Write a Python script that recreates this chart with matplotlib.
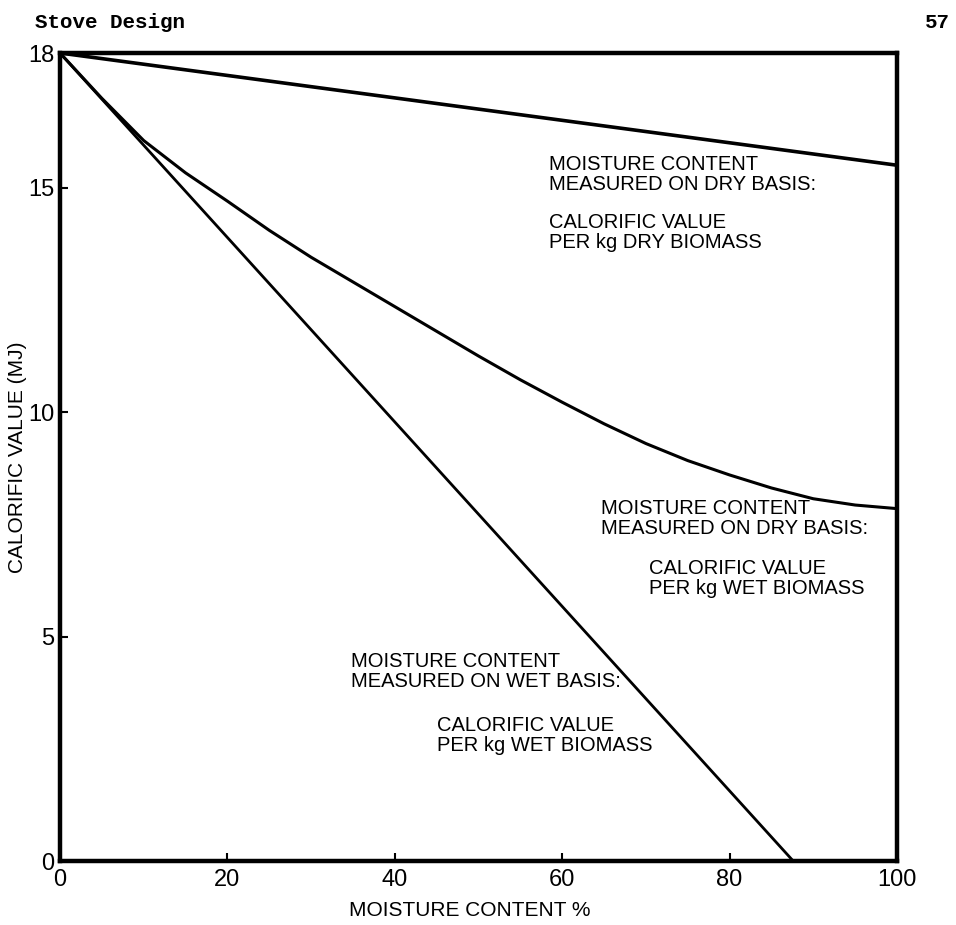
"""
Calorific value of biomass against moisture content (three bases).
"""
import matplotlib
matplotlib.use("Agg")
from matplotlib import pyplot as plt

W, H = 956, 925

# moisture content (%) and calorific value (MJ)
moisture = [0, 10, 20, 30, 40, 50, 60, 70, 80, 90, 100]
dry_per_dry = [18.0, 17.75, 17.5, 17.25, 17.0, 16.75, 16.5, 16.25, 16.0, 15.75, 15.5]

moisture_fine = [0, 5, 10, 15, 20, 25, 30, 35, 40, 45, 50,
                 55, 60, 65, 70, 75, 80, 85, 90, 95, 100]
dry_per_wet = [18.0, 16.99, 16.05, 15.33, 14.7, 14.05, 13.45, 12.9, 12.35, 11.8, 11.25,
               10.72, 10.22, 9.74, 9.3, 8.92, 8.6, 8.31, 8.07, 7.93, 7.85]

wet_moisture = [0, 87.6]
wet_per_wet = [18.0, 0.0]

xticks = [0, 20, 40, 60, 80, 100]
yticks = [0, 5, 10, 15, 18]

plt.rcParams['font.family'] = ['Liberation Sans', 'DejaVu Sans']

fig = plt.figure(figsize=(W / 100, H / 100), dpi=100)
ax = fig.add_axes([60 / W, 1 - 861 / H, 837 / W, 808 / H])

ax.plot(moisture, dry_per_dry, color="black", lw=2.6, solid_capstyle="round")
ax.plot(moisture_fine, dry_per_wet, color="black", lw=2.2,
        solid_capstyle="round", solid_joinstyle="round")
ax.plot(wet_moisture, wet_per_wet, color="black", lw=2.0, solid_capstyle="round")

ax.set_xlim(0, 100)
ax.set_ylim(0, 18)
for s in ax.spines.values():
    s.set_linewidth(3.2)

ax.set_xticks(xticks)
ax.set_yticks(yticks)
ax.tick_params(direction="in", length=6, width=1.5, labelsize=17)
ax.tick_params(axis="y", pad=4)
ax.tick_params(axis="x", pad=6)
ax.set_xticklabels([str(t) for t in xticks])
ax.set_yticklabels([str(t) for t in yticks])

ax.set_xlabel("MOISTURE CONTENT %", fontsize=15)
ax.set_ylabel("CALORIFIC VALUE (MJ)", fontsize=15)
ax.xaxis.set_label_coords(0.49, -0.05)
ax.yaxis.set_label_coords(-0.04, 0.5)


def put(x, y, s, size=14.5):
    # place text by its top-left pixel in the reference
    fig.text(x / W, 1 - y / H, s, fontsize=size, va="top", ha="left",
             linespacing=1.05)


fig.text(35 / W, 1 - 13 / H, "Stove Design", family=["Liberation Mono", "DejaVu Sans Mono"],
         fontsize=15, fontweight="bold", va="top")
fig.text(950 / W, 1 - 13 / H, "57", family=["Liberation Mono", "DejaVu Sans Mono"],
         fontsize=15, fontweight="bold", va="top", ha="right")

put(549, 155, "MOISTURE CONTENT\nMEASURED ON DRY BASIS:")
put(549, 213, "CALORIFIC VALUE\nPER kg DRY BIOMASS")

put(601, 499, "MOISTURE CONTENT\nMEASURED ON DRY BASIS:")
put(649, 559, "CALORIFIC VALUE\nPER kg WET BIOMASS")

put(351, 652, "MOISTURE CONTENT\nMEASURED ON WET BASIS:")
put(437, 716, "CALORIFIC VALUE\nPER kg WET BIOMASS")

fig.savefig("out.png", dpi=100)
